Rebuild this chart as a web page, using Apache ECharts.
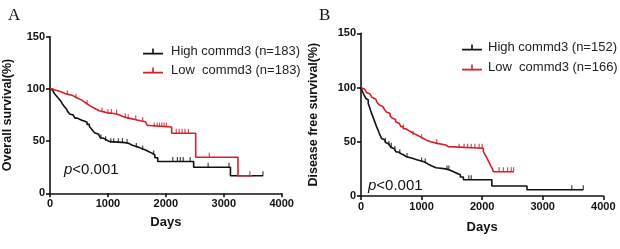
<!DOCTYPE html>
<html><head><meta charset="utf-8">
<script src="https://cdn.jsdelivr.net/npm/echarts@6/dist/echarts.min.js"></script>
<style>html,body{margin:0;padding:0;background:#fff}#c{width:620px;height:249px}</style>
</head><body><div id="c"></div>
<script>
// ---------- DATA ----------
const xTicks = [0, 1000, 2000, 3000, 4000];
const yTicks = [0, 50, 100, 150];
const nameA_high = 'High commd3 (n=183)';
const nameA_low = 'Low  commd3 (n=183)';
const nameB_high = 'High commd3 (n=152)';
const nameB_low = 'Low  commd3 (n=166)';
// Panel A : overall survival [day, %]
const osHigh = [[0,100],[20,99],[45,97.5],[70,96],[100,94],[130,92],[160,90],[190,88],[220,85],[250,83],[280,81],[310,78],[340,76],[370,75],[400,74],[430,72],[470,71],[510,70],[550,69],[600,68],[640,66],[680,64],[710,62],[740,60],[770,58],[800,56.5],[840,55],[870,53],[910,52],[950,50.5],[990,49.5],[1030,48.5],[1300,47.8],[1360,46],[1420,45],[1480,44],[1540,42.5],[1600,41.5],[1650,40],[1700,38.5],[1760,36.7],[1810,34],[1860,30.5],[2480,25],[3115,16.8],[3677,16.8]];
const osLow = [[0,100],[40,99],[90,98],[150,97],[200,95.5],[260,94.5],[330,94],[380,92.5],[430,91],[480,89.5],[540,88],[580,86.5],[620,85],[660,83.5],[700,82],[750,80.5],[800,79],[850,78],[930,77],[1000,76.5],[1100,76],[1150,75],[1200,73.5],[1260,72.5],[1320,71.5],[1400,70.5],[1480,69.5],[1560,68.5],[1650,67],[1680,65],[1720,63.5],[2100,57.5],[2515,34.5],[3245,16.8],[3490,16.8]];
const osHighCens = [[880,52],[960,50.5],[1050,48.5],[1100,48.5],[1180,48.5],[1250,48.5],[1330,47.8],[1490,44],[1600,41.5],[1790,36.7],[2120,30.5],[2200,30.5],[2250,30.5],[2300,30.5],[2420,30.5],[2730,25],[3090,25],[3677,16.8]];
const osLowCens = [[300,94.5],[450,91],[640,85],[900,78],[1000,76.5],[1060,76.5],[1150,76],[1300,72.5],[1350,71.5],[1480,70.5],[1600,68.5],[1800,63.5],[1850,63.5],[1890,63.5],[1930,63.5],[1970,63.5],[2010,63.5],[2180,57.5],[2230,57.5],[2280,57.5],[2330,57.5],[2390,57.5],[2750,34.5],[3450,16.8]];
// Panel B : disease free survival [day, %]
const dfsHigh = [[0,100],[20,97],[40,94.5],[60,92],[80,90],[100,88.5],[120,85],[140,82],[160,78.5],[180,75.5],[200,72.5],[220,69.5],[240,66.5],[260,63.5],[280,61],[300,58],[320,55.5],[340,53],[370,51.5],[400,49.5],[430,48],[460,46.5],[490,45],[520,43.5],[550,42],[580,40.5],[620,39],[660,38],[700,36.5],[740,35.5],[800,34.5],[860,33.5],[920,32.5],[980,31.5],[1040,30.5],[1080,29],[1120,27.5],[1180,26],[1240,25],[1400,24],[1460,22.5],[1520,21],[1580,19.5],[1640,17.5],[1690,15],[2160,9.2],[2740,5.8],[3670,5.8]];
const dfsLow = [[0,100],[30,98.5],[60,97],[90,95.5],[120,94],[150,92.5],[180,91],[210,89.5],[240,88],[270,86],[300,84],[330,82.5],[360,81],[390,79.5],[420,77.5],[450,76],[480,74],[510,72],[540,70.5],[570,68.5],[600,67],[630,65.5],[660,64],[700,62],[740,60.5],[780,59],[830,57.5],[880,56],[930,54.5],[980,53],[1030,51.5],[1080,50],[1150,48.5],[1260,47],[1400,45.5],[1440,44],[2020,41],[2050,38],[2080,35],[2110,31.5],[2140,28],[2170,25],[2185,22.4],[2520,22.4]];
const dfsHighCens = [[400,49.5],[460,46.5],[500,45],[560,42],[640,39],[760,35.5],[1000,31.5],[1060,30.5],[1420,24],[1450,24],[1780,15],[1820,15],[3480,5.8],[3670,5.8]];
const dfsLowCens = [[700,62],[860,56],[1000,53],[1250,48.5],[1620,44],[1700,44],[1760,44],[1820,44],[1880,44],[1950,44],[2000,44],[2280,22.4],[2350,22.4],[2420,22.4],[2480,22.4],[2520,22.4]];

// ---------- STYLE ----------
const BLACK = '#111111', RED = '#d3202a';
const FONT = '"Liberation Sans", Arial, sans-serif';
const legendIcon = 'path://M0,6.2h20v1.6h-20z M9.2,2h1.6v4.5h-1.6z';

function xAxis(gi, gap) {
  return {
    gridIndex: gi, type: 'value', min: xTicks[0], max: xTicks[xTicks.length-1], interval: 1000,
    name: 'Days', nameLocation: 'middle', nameGap: gap,
    nameTextStyle: {fontFamily: FONT, fontWeight: 'bold', fontSize: 13, color: '#111'},
    axisLine: {lineStyle: {color: '#111', width: 1.6}},
    axisTick: {length: 4, lineStyle: {color: '#111', width: 1.6}},
    axisLabel: {fontFamily: FONT, fontWeight: 'bold', fontSize: 11, color: '#111', margin: 5, formatter: v => String(v)},
    splitLine: {show: false}
  };
}
function yAxis(gi, name, gap) {
  return {
    gridIndex: gi, type: 'value', min: yTicks[0], max: yTicks[yTicks.length-1], interval: 50,
    name: name, nameLocation: 'middle', nameGap: gap, nameRotate: 90,
    nameTextStyle: {fontFamily: FONT, fontWeight: 'bold', fontSize: 12.5, color: '#111'},
    axisLine: {show: true, lineStyle: {color: '#111', width: 1.6}},
    axisTick: {show: true, length: 4, lineStyle: {color: '#111', width: 1.6}},
    axisLabel: {fontFamily: FONT, fontWeight: 'bold', fontSize: 11, color: '#111', margin: 5, formatter: v => String(v)},
    splitLine: {show: false}
  };
}
function curve(name, data, color, gi) {
  return {name: name, type: 'line', step: 'end', data: data, xAxisIndex: gi, yAxisIndex: gi,
    showSymbol: false, symbol: 'none', lineStyle: {color: color, width: 1.6}, itemStyle: {color: color},
    animation: false, silent: true};
}
function cens(data, color, gi) {
  return {type: 'scatter', data: data, xAxisIndex: gi, yAxisIndex: gi,
    symbol: 'rect', symbolSize: [1.2, 4.5], symbolOffset: [0, -2.2],
    itemStyle: {color: color}, animation: false, silent: true};
}
const pStyle = {fontWeight: 'normal', rich: {
  i: {fontFamily: FONT, fontStyle: 'italic', fontWeight: 'normal', fontSize: 15, color: '#111'},
  n: {fontFamily: FONT, fontWeight: 'normal', fontSize: 15, color: '#111'}}};

const chart = echarts.init(document.getElementById('c'), null, {renderer: 'canvas'});
chart.setOption({
  backgroundColor: '#fff',
  animation: false,
  title: [
    {text: 'A', left: 3, top: 2, textStyle: {fontFamily: '"Liberation Serif", "Times New Roman", serif', fontWeight: 'normal', fontSize: 17, color: '#111'}},
    {text: 'B', left: 314, top: 2, textStyle: {fontFamily: '"Liberation Serif", "Times New Roman", serif', fontWeight: 'normal', fontSize: 17, color: '#111'}},
    {text: '{i|p}{n|<0.001}', left: 59, top: 157, textStyle: pStyle},
    {text: '{i|p}{n|<0.001}', left: 363, top: 173, textStyle: pStyle}
  ],
  legend: [
    {data: [nameA_high, nameA_low], orient: 'vertical', left: 138, top: 40, itemWidth: 20, itemHeight: 10, itemGap: 6,
      icon: legendIcon, textStyle: {fontFamily: FONT, fontSize: 13, color: '#222', padding: [0,0,0,3]}, selectedMode: false},
    {data: [nameB_high, nameB_low], orient: 'vertical', left: 457, top: 36, itemWidth: 20, itemHeight: 10, itemGap: 7,
      icon: legendIcon, textStyle: {fontFamily: FONT, fontSize: 13, color: '#222', padding: [0,0,0,1]}, selectedMode: false}
  ],
  grid: [
    {left: 46.7, top: 36.7, width: 235, height: 156.6, containLabel: false},
    {left: 361, top: 33.3, width: 242.3, height: 162.7, containLabel: false}
  ],
  xAxis: [xAxis(0, 23), xAxis(1, 25)],
  yAxis: [yAxis(0, 'Overall survival(%)', 36), yAxis(1, 'Disease free survival(%)', 41)],
  series: [
    curve(nameA_high, osHigh, BLACK, 0),
    curve(nameA_low, osLow, RED, 0),
    cens(osHighCens, BLACK, 0),
    cens(osLowCens, RED, 0),
    curve(nameB_high, dfsHigh, BLACK, 1),
    curve(nameB_low, dfsLow, RED, 1),
    cens(dfsHighCens, BLACK, 1),
    cens(dfsLowCens, RED, 1)
  ]
});
</script>
</body></html>
